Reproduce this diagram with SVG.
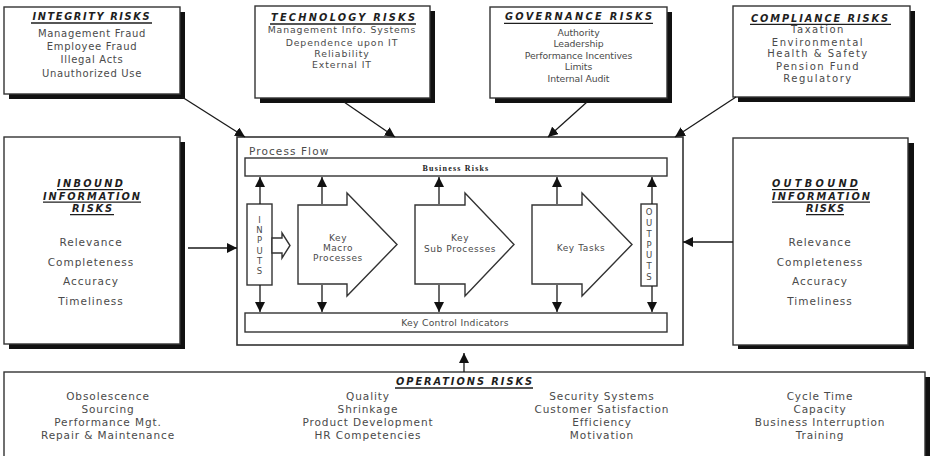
<svg xmlns="http://www.w3.org/2000/svg" width="930" height="456" viewBox="0 0 930 456">
  <defs>
    <style>
      .box { fill: #ffffff; stroke: #333333; stroke-width: 1.4; }
      .shadow { fill: #111111; }
      .conn { stroke: #1a1a1a; stroke-width: 1.3; fill: none; }
      .ul { stroke: #1e1e1e; stroke-width: 1.3; }
      text { font-family: "DejaVu Sans", "Liberation Sans", sans-serif; fill: #4a4a4a; text-anchor: middle; }
      .title { font-weight: bold; font-style: italic; font-size: 9.8px; fill: #1e1e1e; }
      .integ { font-size: 10px; letter-spacing: 0.7px; }
      .tech { font-size: 9.3px; letter-spacing: 0.9px; }
      .gov { font-size: 9.3px; letter-spacing: -0.1px; }
      .comp { font-size: 10px; letter-spacing: 1.5px; }
      .big { font-size: 10.5px; letter-spacing: 1px; }
      .ops { font-size: 10.5px; letter-spacing: 0.9px; }
      .pf { font-size: 10.5px; letter-spacing: 1.1px; text-anchor: start; }
      .lbl { font-size: 9px; letter-spacing: 0.6px; }
      .kci { font-size: 9.2px; letter-spacing: 0.3px; }
      .ltr { font-size: 8.5px; }
      .br { font-family: "Liberation Serif", serif; font-weight: bold; font-size: 8px; letter-spacing: 1.2px; fill: #222222; }
    </style>
    <marker id="ah" viewBox="0 0 10 10" refX="10" refY="5" markerWidth="10" markerHeight="10" markerUnits="userSpaceOnUse" orient="auto">
      <path d="M0,0 L10,5 L0,10 z" fill="#111111"/>
    </marker>
  </defs>

  <rect width="930" height="456" fill="#ffffff"/>

  <!-- Integrity risks -->
  <g id="integrity-risks">
    <rect class="shadow" x="9" y="12" width="176" height="87"/>
    <rect class="box" x="4" y="7" width="176" height="87"/>
    <text class="title" x="91" y="20" textLength="117" lengthAdjust="spacing">INTEGRITY RISKS</text>
    <line class="ul" x1="31" y1="23" x2="152" y2="23"/>
    <text class="integ" x="92" y="36.7">Management Fraud</text>
    <text class="integ" x="92" y="50">Employee Fraud</text>
    <text class="integ" x="92" y="63.3">Illegal Acts</text>
    <text class="integ" x="92" y="76.7">Unauthorized Use</text>
  </g>

  <!-- Technology risks -->
  <g id="technology-risks">
    <rect class="shadow" x="260" y="11" width="175" height="92"/>
    <rect class="box" x="255" y="6" width="175" height="92"/>
    <text class="title" x="343" y="20.5" textLength="144" lengthAdjust="spacing">TECHNOLOGY RISKS</text>
    <line class="ul" x1="270" y1="24" x2="416" y2="24"/>
    <text class="tech" x="342" y="33.3">Management Info. Systems</text>
    <text class="tech" x="342" y="45.5">Dependence upon IT</text>
    <text class="tech" x="342" y="56.8">Reliability</text>
    <text class="tech" x="342" y="68.3">External IT</text>
  </g>

  <!-- Governance risks -->
  <g id="governance-risks">
    <rect class="shadow" x="495" y="12" width="177" height="91"/>
    <rect class="box" x="490" y="7" width="177" height="91"/>
    <text class="title" x="578.5" y="20" textLength="147" lengthAdjust="spacing">GOVERNANCE RISKS</text>
    <line class="ul" x1="504" y1="23.3" x2="653" y2="23.3"/>
    <text class="gov" x="578.5" y="35.7">Authority</text>
    <text class="gov" x="578.5" y="47.3">Leadership</text>
    <text class="gov" x="578.5" y="59">Performance Incentives</text>
    <text class="gov" x="578.5" y="70">Limits</text>
    <text class="gov" x="578.5" y="81.5">Internal Audit</text>
  </g>

  <!-- Compliance risks -->
  <g id="compliance-risks">
    <rect class="shadow" x="738" y="11" width="177" height="91"/>
    <rect class="box" x="733" y="6" width="177" height="91"/>
    <text class="title" x="819.5" y="21.5" textLength="137" lengthAdjust="spacing">COMPLIANCE RISKS</text>
    <line class="ul" x1="750" y1="24.3" x2="891" y2="24.3"/>
    <text class="comp" x="818" y="33.3">Taxation</text>
    <text class="comp" x="818" y="45.6">Environmental</text>
    <text class="comp" x="818" y="57.4">Health &amp; Safety</text>
    <text class="comp" x="818" y="69.7">Pension Fund</text>
    <text class="comp" x="818" y="81.7">Regulatory</text>
  </g>

  <!-- Inbound information risks -->
  <g id="inbound-information-risks">
    <rect class="shadow" x="9" y="142" width="176" height="207"/>
    <rect class="box" x="4" y="137" width="176" height="207"/>
    <text class="title" x="90" y="187" textLength="66" lengthAdjust="spacing">INBOUND</text>
    <line class="ul" x1="57" y1="189.7" x2="123" y2="189.7"/>
    <text class="title" x="91.5" y="199.5" textLength="97" lengthAdjust="spacing">INFORMATION</text>
    <line class="ul" x1="43" y1="202.2" x2="141" y2="202.2"/>
    <text class="title" x="92" y="212" textLength="40" lengthAdjust="spacing">RISKS</text>
    <line class="ul" x1="70" y1="214.7" x2="114" y2="214.7"/>
    <text class="big" x="91" y="246">Relevance</text>
    <text class="big" x="91" y="265.6">Completeness</text>
    <text class="big" x="91" y="285.3">Accuracy</text>
    <text class="big" x="91" y="305">Timeliness</text>
  </g>

  <!-- Outbound information risks -->
  <g id="outbound-information-risks">
    <rect class="shadow" x="738" y="143" width="176" height="206"/>
    <rect class="box" x="733" y="138" width="175" height="207"/>
    <text class="title" x="815" y="187" textLength="86" lengthAdjust="spacing">OUTBOUND</text>
    <line class="ul" x1="772" y1="189.7" x2="858" y2="189.7"/>
    <text class="title" x="821" y="199.5" textLength="98" lengthAdjust="spacing">INFORMATION</text>
    <line class="ul" x1="772" y1="202.2" x2="870" y2="202.2"/>
    <text class="title" x="825" y="212" textLength="38" lengthAdjust="spacing">RISKS</text>
    <line class="ul" x1="806" y1="214.7" x2="844" y2="214.7"/>
    <text class="big" x="820" y="246">Relevance</text>
    <text class="big" x="820" y="265.6">Completeness</text>
    <text class="big" x="820" y="285.3">Accuracy</text>
    <text class="big" x="820" y="305">Timeliness</text>
  </g>

  <!-- Process flow -->
  <g id="process-flow">
    <rect class="box" x="237" y="137" width="446" height="208" style="stroke-width:1.6"/>
    <text class="pf" x="249" y="155">Process Flow</text>
  </g>

  <g id="business-risks">
    <rect class="box" x="245" y="158" width="422" height="18"/>
    <text class="br" x="456" y="170.5">Business Risks</text>
  </g>

  <g id="key-control-indicators">
    <rect class="box" x="245" y="313" width="422" height="19"/>
    <text class="kci" x="455" y="325.5">Key Control Indicators</text>
  </g>

  <g id="inputs">
    <rect class="box" x="247" y="204" width="25" height="81"/>
    <text class="ltr" x="259.5" y="223">I</text>
    <text class="ltr" x="259.5" y="233.2">N</text>
    <text class="ltr" x="259.5" y="243.4">P</text>
    <text class="ltr" x="259.5" y="253.6">U</text>
    <text class="ltr" x="259.5" y="263.8">T</text>
    <text class="ltr" x="259.5" y="274">S</text>
    <polygon class="box" points="272,238 282,238 282,233 290,245.5 282,258 282,253 272,253"/>
  </g>

  <g id="key-macro-processes">
    <polygon class="box" points="298,205 347,205 347,193 397,244.5 347,296 347,284 298,284"/>
    <text class="lbl" x="338" y="240.5">Key</text>
    <text class="lbl" x="338" y="250.5">Macro</text>
    <text class="lbl" x="338" y="260.5">Processes</text>
  </g>

  <g id="key-sub-processes">
    <polygon class="box" points="415,205 465,205 465,193 514,244.5 465,296 465,284 415,284"/>
    <text class="lbl" x="460" y="240.5">Key</text>
    <text class="lbl" x="460" y="251.5">Sub Processes</text>
  </g>

  <g id="key-tasks">
    <polygon class="box" points="532,205 582,205 582,193 632,244.5 582,296 582,284 532,284"/>
    <text class="lbl" x="581" y="250.5">Key Tasks</text>
  </g>

  <g id="outputs">
    <rect class="box" x="641" y="204" width="16" height="82"/>
    <text class="ltr" x="649" y="215">O</text>
    <text class="ltr" x="649" y="225.8">U</text>
    <text class="ltr" x="649" y="236.7">T</text>
    <text class="ltr" x="649" y="247.5">P</text>
    <text class="ltr" x="649" y="258.3">U</text>
    <text class="ltr" x="649" y="269.2">T</text>
    <text class="ltr" x="649" y="280">S</text>
  </g>

  <!-- Operations risks -->
  <g id="operations-risks">
    <rect class="shadow" x="9" y="377" width="921" height="90"/>
    <rect class="box" x="4" y="372" width="921" height="90"/>
    <text class="title" x="464" y="384.5" textLength="136" lengthAdjust="spacing">OPERATIONS RISKS</text>
    <line class="ul" x1="395" y1="388" x2="533" y2="388"/>
    <text class="ops" x="108" y="400">Obsolescence</text>
    <text class="ops" x="108" y="413">Sourcing</text>
    <text class="ops" x="108" y="426">Performance Mgt.</text>
    <text class="ops" x="108" y="439">Repair &amp; Maintenance</text>
    <text class="ops" x="368" y="400">Quality</text>
    <text class="ops" x="368" y="413">Shrinkage</text>
    <text class="ops" x="368" y="426">Product Development</text>
    <text class="ops" x="368" y="439">HR Competencies</text>
    <text class="ops" x="602" y="400">Security Systems</text>
    <text class="ops" x="602" y="413">Customer Satisfaction</text>
    <text class="ops" x="602" y="426">Efficiency</text>
    <text class="ops" x="602" y="439">Motivation</text>
    <text class="ops" x="820" y="400">Cycle Time</text>
    <text class="ops" x="820" y="413">Capacity</text>
    <text class="ops" x="820" y="426">Business Interruption</text>
    <text class="ops" x="820" y="439">Training</text>
  </g>

  <!-- Connectors -->
  <g id="connectors">
    <line class="conn" x1="182" y1="97" x2="245" y2="137" marker-end="url(#ah)"/>
    <line class="conn" x1="344" y1="102" x2="395" y2="137" marker-end="url(#ah)"/>
    <line class="conn" x1="587" y1="102" x2="548" y2="137" marker-end="url(#ah)"/>
    <line class="conn" x1="736" y1="97" x2="675" y2="137" marker-end="url(#ah)"/>
    <line class="conn" x1="188" y1="248" x2="237" y2="248" marker-end="url(#ah)"/>
    <line class="conn" x1="733" y1="242" x2="683" y2="242" marker-end="url(#ah)"/>
    <line class="conn" x1="464" y1="372" x2="464" y2="353" marker-end="url(#ah)"/>
    <!-- links from the process stages up to business risks -->
    <line class="conn" x1="260" y1="204" x2="260" y2="177" marker-end="url(#ah)"/>
    <line class="conn" x1="322" y1="204" x2="322" y2="177" marker-end="url(#ah)"/>
    <line class="conn" x1="439" y1="204" x2="439" y2="177" marker-end="url(#ah)"/>
    <line class="conn" x1="557" y1="204" x2="557" y2="177" marker-end="url(#ah)"/>
    <line class="conn" x1="652" y1="204" x2="652" y2="177" marker-end="url(#ah)"/>
    <!-- links down to key control indicators -->
    <line class="conn" x1="260" y1="285" x2="260" y2="312" marker-end="url(#ah)"/>
    <line class="conn" x1="322" y1="285" x2="322" y2="312" marker-end="url(#ah)"/>
    <line class="conn" x1="439" y1="285" x2="439" y2="312" marker-end="url(#ah)"/>
    <line class="conn" x1="557" y1="285" x2="557" y2="312" marker-end="url(#ah)"/>
    <line class="conn" x1="652" y1="286" x2="652" y2="312" marker-end="url(#ah)"/>
  </g>
</svg>
